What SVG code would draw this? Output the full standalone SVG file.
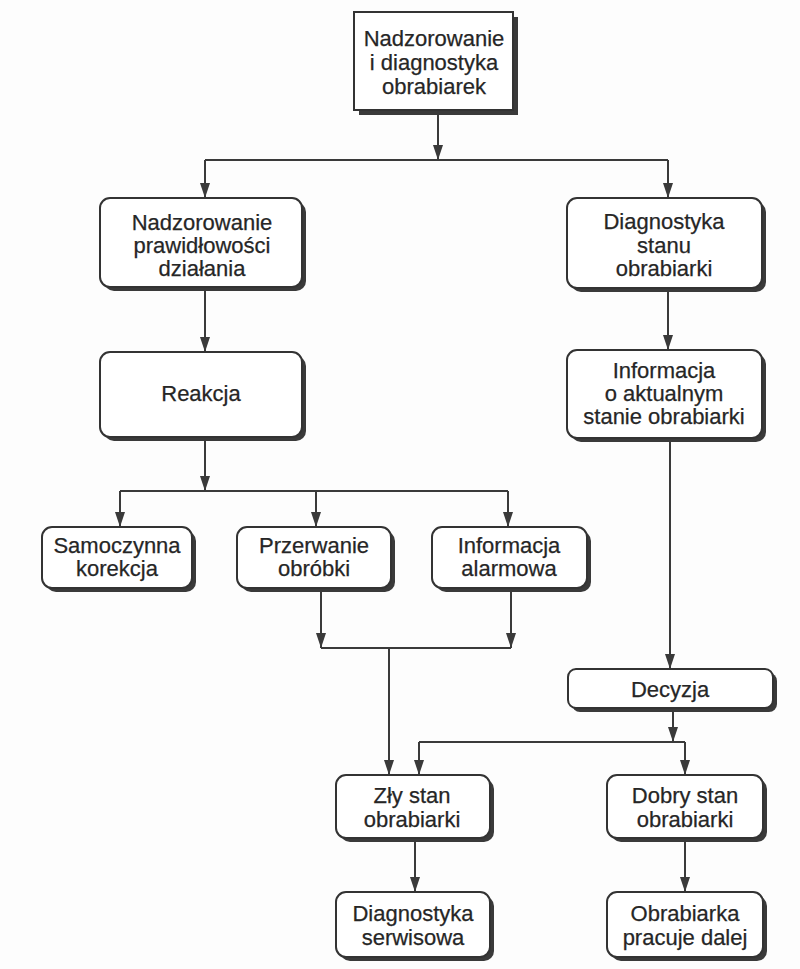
<svg xmlns="http://www.w3.org/2000/svg" width="800" height="969" viewBox="0 0 800 969">
<style>
.box{fill:#ffffff;stroke:#333333;stroke-width:2}
.sh{fill:#3a3a3a}
.t{font-family:"Liberation Sans",Arial,sans-serif;font-size:22px;fill:#262626;stroke:#262626;stroke-width:0.25;text-anchor:middle}
.c{fill:none;stroke:#3a3a3a;stroke-width:2}
</style>
<defs>
<marker id="ah" viewBox="0 0 15 10" refX="15" refY="5" markerWidth="15" markerHeight="10" markerUnits="userSpaceOnUse" orient="auto">
<path d="M0,0 L15,5 L0,10 z" fill="#3a3a3a"/>
</marker>
</defs>
<rect width="800" height="969" fill="#fdfdfd"/>
<g id="connectors">
<path class="c" d="M438,111 V160" marker-end="url(#ah)"/>
<path class="c" d="M205,160 H668"/>
<path class="c" d="M205,160 V198" marker-end="url(#ah)"/>
<path class="c" d="M668,160 V198" marker-end="url(#ah)"/>
<path class="c" d="M205,288 V352" marker-end="url(#ah)"/>
<path class="c" d="M668,289 V350" marker-end="url(#ah)"/>
<path class="c" d="M205,438 V491" marker-end="url(#ah)"/>
<path class="c" d="M120,491 H508"/>
<path class="c" d="M120,491 V527" marker-end="url(#ah)"/>
<path class="c" d="M316,491 V527" marker-end="url(#ah)"/>
<path class="c" d="M508,491 V527" marker-end="url(#ah)"/>
<path class="c" d="M321,589 V648" marker-end="url(#ah)"/>
<path class="c" d="M511,589 V648" marker-end="url(#ah)"/>
<path class="c" d="M321,648 H511"/>
<path class="c" d="M389,648 V775" marker-end="url(#ah)"/>
<path class="c" d="M670,439 V669" marker-end="url(#ah)"/>
<path class="c" d="M673,709 V742" marker-end="url(#ah)"/>
<path class="c" d="M419,742 H685"/>
<path class="c" d="M419,742 V775" marker-end="url(#ah)"/>
<path class="c" d="M685,742 V775" marker-end="url(#ah)"/>
<path class="c" d="M415,839 V892" marker-end="url(#ah)"/>
<path class="c" d="M685,839 V892" marker-end="url(#ah)"/>
</g>
<g id="n-root">
<rect class="sh" x="359" y="17" width="159" height="98"/>
<rect class="box" x="354" y="12" width="159" height="98"/>
<text class="t" x="434" y="46">Nadzorowanie</text>
<text class="t" x="434" y="70">i diagnostyka</text>
<text class="t" x="434" y="94">obrabiarek</text>
</g>
<g id="n-nadz">
<rect class="sh" x="104" y="202" width="202" height="89" rx="10"/>
<rect class="box" x="100" y="198" width="202" height="89" rx="10"/>
<text class="t" x="202" y="230">Nadzorowanie</text>
<text class="t" x="202" y="253">prawidłowości</text>
<text class="t" x="202" y="276">działania</text>
</g>
<g id="n-diag">
<rect class="sh" x="571" y="202" width="195" height="90" rx="10"/>
<rect class="box" x="567" y="198" width="195" height="90" rx="10"/>
<text class="t" x="664" y="229">Diagnostyka</text>
<text class="t" x="664" y="253">stanu</text>
<text class="t" x="664" y="276">obrabiarki</text>
</g>
<g id="n-reakcja">
<rect class="sh" x="104" y="356" width="202" height="85" rx="10"/>
<rect class="box" x="100" y="352" width="202" height="85" rx="10"/>
<text class="t" x="201" y="401">Reakcja</text>
</g>
<g id="n-info">
<rect class="sh" x="571" y="354" width="195" height="88" rx="10"/>
<rect class="box" x="567" y="350" width="195" height="88" rx="10"/>
<text class="t" x="664" y="378">Informacja</text>
<text class="t" x="664" y="401">o aktualnym</text>
<text class="t" x="664" y="424">stanie obrabiarki</text>
</g>
<g id="n-samo">
<rect class="sh" x="46" y="531" width="150" height="61" rx="10"/>
<rect class="box" x="42" y="527" width="150" height="61" rx="10"/>
<text class="t" x="117" y="553">Samoczynna</text>
<text class="t" x="117" y="576">korekcja</text>
</g>
<g id="n-przer">
<rect class="sh" x="241" y="531" width="154" height="61" rx="10"/>
<rect class="box" x="237" y="527" width="154" height="61" rx="10"/>
<text class="t" x="314" y="553">Przerwanie</text>
<text class="t" x="314" y="576">obróbki</text>
</g>
<g id="n-alarm">
<rect class="sh" x="436" y="531" width="155" height="61" rx="10"/>
<rect class="box" x="432" y="527" width="155" height="61" rx="10"/>
<text class="t" x="509" y="553">Informacja</text>
<text class="t" x="509" y="576">alarmowa</text>
</g>
<g id="n-decyzja">
<rect class="sh" x="572" y="673" width="205" height="39" rx="8"/>
<rect class="box" x="568" y="669" width="205" height="39" rx="8"/>
<text class="t" x="670" y="697">Decyzja</text>
</g>
<g id="n-zly">
<rect class="sh" x="340" y="779" width="154" height="63" rx="10"/>
<rect class="box" x="336" y="775" width="154" height="63" rx="10"/>
<text class="t" x="412" y="803">Zły stan</text>
<text class="t" x="412" y="827">obrabiarki</text>
</g>
<g id="n-dobry">
<rect class="sh" x="611" y="779" width="156" height="63" rx="10"/>
<rect class="box" x="607" y="775" width="156" height="63" rx="10"/>
<text class="t" x="685" y="803">Dobry stan</text>
<text class="t" x="685" y="827">obrabiarki</text>
</g>
<g id="n-serwis">
<rect class="sh" x="340" y="896" width="154" height="65" rx="10"/>
<rect class="box" x="336" y="892" width="154" height="65" rx="10"/>
<text class="t" x="413" y="921">Diagnostyka</text>
<text class="t" x="413" y="945">serwisowa</text>
</g>
<g id="n-pracuje">
<rect class="sh" x="611" y="896" width="156" height="65" rx="10"/>
<rect class="box" x="607" y="892" width="156" height="65" rx="10"/>
<text class="t" x="685" y="921">Obrabiarka</text>
<text class="t" x="685" y="945">pracuje dalej</text>
</g>
</svg>
